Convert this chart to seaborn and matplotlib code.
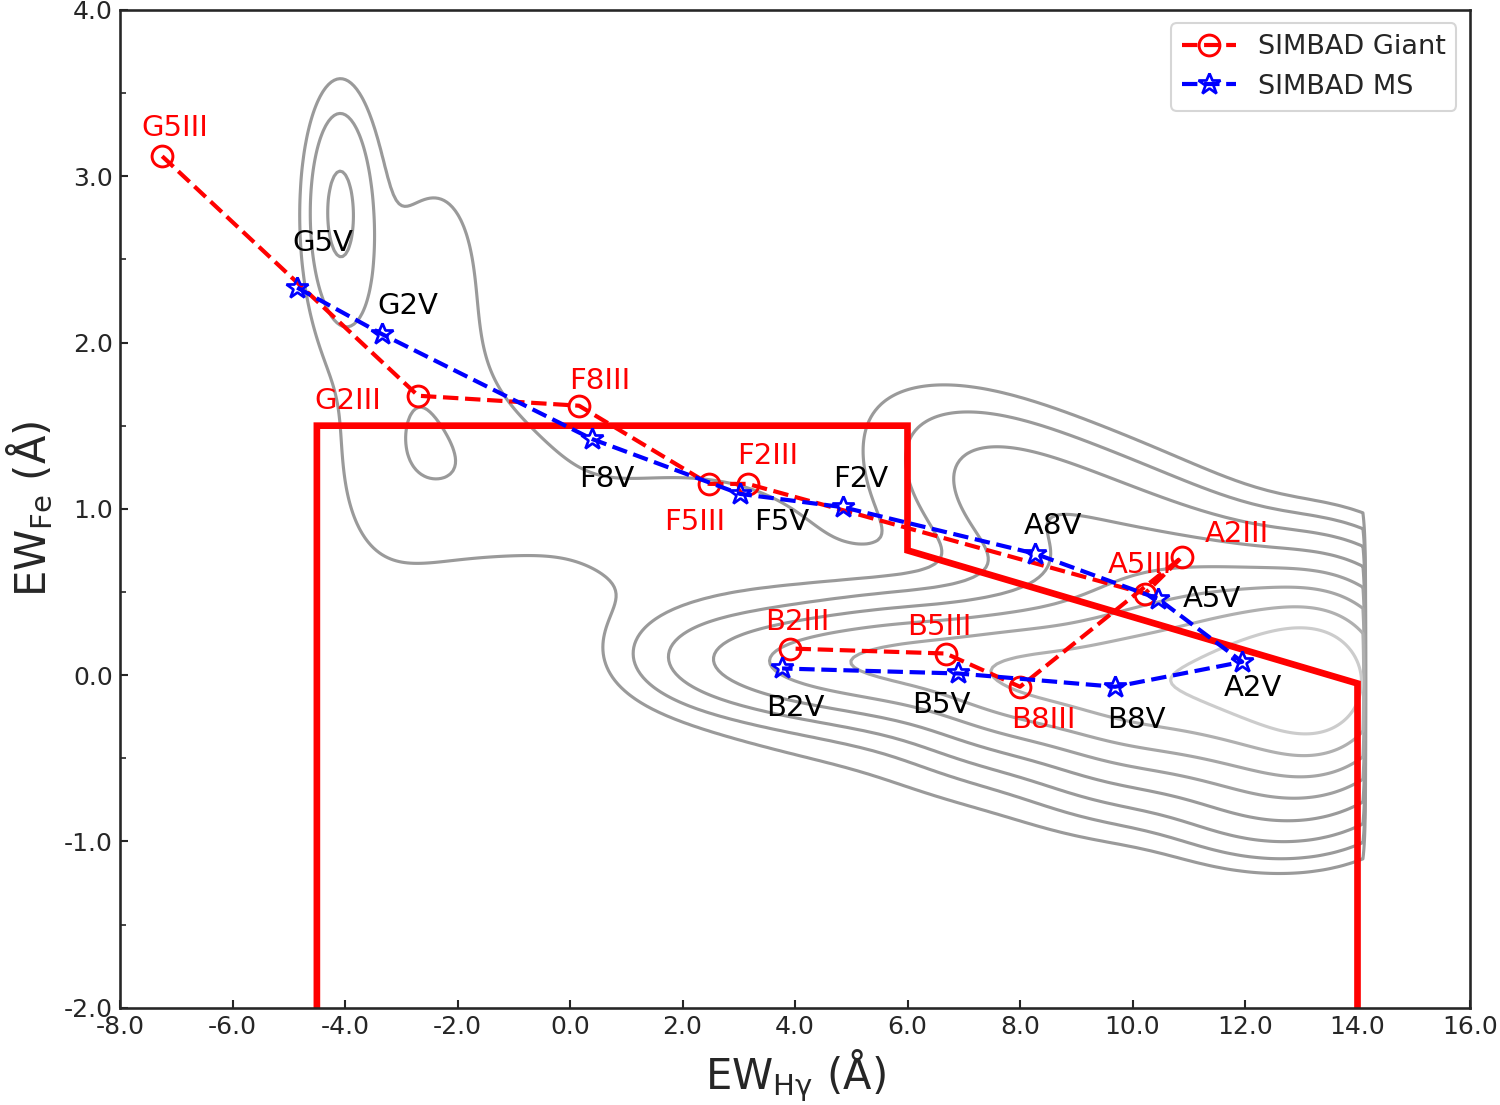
import numpy as np
import matplotlib
matplotlib.use("Agg")
import matplotlib.pyplot as plt
import seaborn as sns

# SIMBAD giant sequence (EW_Hgamma, EW_Fe), in plotting order
giant_lbl = ["G5III", "G2III", "F8III", "F5III", "F2III", "A5III", "A2III", "B8III", "B5III", "B2III"]
giant_x = [-7.25, -2.70, 0.16, 2.47, 3.16, 10.22, 10.88, 8.00, 6.68, 3.91]
giant_y = [3.12, 1.68, 1.62, 1.15, 1.15, 0.49, 0.71, -0.07, 0.13, 0.16]

# SIMBAD main sequence
ms_lbl = ["G5V", "G2V", "F8V", "F5V", "F2V", "A8V", "A5V", "A2V", "B8V", "B5V", "B2V"]
ms_x = [-4.85, -3.34, 0.39, 3.02, 4.85, 8.27, 10.45, 11.95, 9.69, 6.90, 3.77]
ms_y = [2.33, 2.05, 1.42, 1.09, 1.01, 0.73, 0.46, 0.08, -0.07, 0.01, 0.04]

# label positions (text centres)
giant_tx = [-7.02, -3.95, 0.53, 2.22, 3.52, 10.13, 11.86, 8.41, 6.56, 4.05]
giant_ty = [3.29, 1.65, 1.77, 0.92, 1.32, 0.66, 0.85, -0.27, 0.29, 0.32]
ms_tx = [-4.39, -2.88, 0.66, 3.77, 5.16, 8.59, 11.41, 12.14, 10.06, 6.60, 4.00]
ms_ty = [2.60, 2.22, 1.18, 0.92, 1.18, 0.90, 0.46, -0.08, -0.27, -0.18, -0.20]

# selection box
box_x = [-4.5, -4.5, 6.0, 6.0, 14.0, 14.0]
box_y = [-2.0, 1.5, 1.5, 0.75, -0.05, -2.0]

# density components of the full sample (x, y, sx, sy, slope, amplitude)
dens_x = [13.5, 12.0, 10.0, 8.0, 6.0, 4.3, 2.8, 1.5,
          9.0, 4.0, 11.0, 8.0, 12.5,
          -4.1, -2.8, -1.5, 2.0]
dens_y = [-0.05, -0.05, -0.05, 0.0, 0.08, 0.08, 0.1, 0.15,
          -0.1, 0.1, 0.55, 1.0, -0.75,
          2.8, 1.9, 1.2, 0.9]
dens_sx = [0.9, 1.1, 1.1, 1.1, 1.1, 1.0, 0.9, 0.8,
           3.0, 2.0, 2.6, 1.2, 1.0,
           0.4, 1.1, 1.2, 2.0]
dens_sy = [0.36, 0.36, 0.32, 0.25, 0.2, 0.17, 0.17, 0.2,
           0.55, 0.4, 0.35, 0.3, 0.22,
           0.45, 0.9, 0.4, 0.35]
dens_slope = [0, 0, 0, 0, 0, 0, 0, 0,
              0, 0, -0.16, -0.15, 0,
              0, 0.3, 0, 0]
dens_amp = [0.75, 0.6, 0.5, 0.42, 0.28, 0.17, 0.06, 0.01,
            0.03, 0.02, 0.12, 0.04, 0.05,
            0.065, 0.025, 0.018, 0.02]
dens_levels = [0.015, 0.03, 0.06, 0.12, 0.22, 0.36, 0.55, 0.78]
dens_colors = ["#9a9a9a", "#9a9a9a", "#9a9a9a", "#9a9a9a", "#a0a0a0", "#a6a6a6", "#b0b0b0", "#cccccc"]

sns.set_theme(style="ticks")
plt.rcParams["font.family"] = ["DejaVu Sans"]
plt.rcParams["axes.unicode_minus"] = False
plt.rcParams["xtick.direction"] = "in"
plt.rcParams["ytick.direction"] = "in"

fig = plt.figure(figsize=(10, 7.367), dpi=150)
ax = fig.add_axes([0.08, 0.088, 0.90, 0.903])

gx, gy = np.meshgrid(np.linspace(-8, 16, 480), np.linspace(-2, 4, 300))
dens = np.zeros_like(gx)
for cx, cy, sx, sy, sl, a in zip(dens_x, dens_y, dens_sx, dens_sy, dens_slope, dens_amp):
    dy = gy - cy - sl * (gx - cx)
    dens += a * np.exp(-0.5 * ((gx - cx) / sx) ** 2 - 0.5 * (dy / sy) ** 2)
dens[gx > 14.1] = 0
ax.contour(gx, gy, dens, levels=dens_levels, colors=dens_colors, linewidths=1.5, zorder=1)

ax.plot(box_x, box_y, color="red", lw=3.2, zorder=2, solid_joinstyle="miter")

sns.lineplot(x=giant_x, y=giant_y, sort=False, ax=ax, color="red", linestyle="--", lw=2,
             marker="o", markersize=10, markerfacecolor="none", markeredgecolor="red",
             markeredgewidth=1.4, label="SIMBAD Giant", zorder=3)
sns.lineplot(x=ms_x, y=ms_y, sort=False, ax=ax, color="blue", linestyle="--", lw=2,
             marker="*", markersize=11, markerfacecolor="none", markeredgecolor="blue",
             markeredgewidth=1.3, label="SIMBAD MS", zorder=4)

for t, x, y in zip(giant_lbl, giant_tx, giant_ty):
    ax.text(x, y, t, color="red", fontsize=14, ha="center", va="center", zorder=2.5)
for t, x, y in zip(ms_lbl, ms_tx, ms_ty):
    ax.text(x, y, t, color="black", fontsize=14, ha="center", va="center", zorder=2.5)

ax.set_xlim(-8, 16)
ax.set_ylim(-2, 4)
ax.set_xticks(np.arange(-8, 17, 2))
ax.set_yticks(np.arange(-2, 5, 1))
ax.set_yticks(np.arange(-2, 4.01, 0.5), minor=True)
ax.xaxis.set_major_formatter(matplotlib.ticker.FormatStrFormatter("%.1f"))
ax.yaxis.set_major_formatter(matplotlib.ticker.FormatStrFormatter("%.1f"))
ax.tick_params(which="major", length=4, width=1, labelsize=12)
ax.tick_params(which="minor", length=3, width=0.8)
ax.set_xlabel(r"EW$_{\mathrm{H\gamma}}$ (Å)", fontsize=20)
ax.set_ylabel(r"EW$_{\mathrm{Fe}}$ (Å)", fontsize=20)

ax.legend(loc="upper right", fontsize=13, frameon=True, edgecolor="#cccccc", fancybox=True)

plt.savefig("out.png", dpi=150)
